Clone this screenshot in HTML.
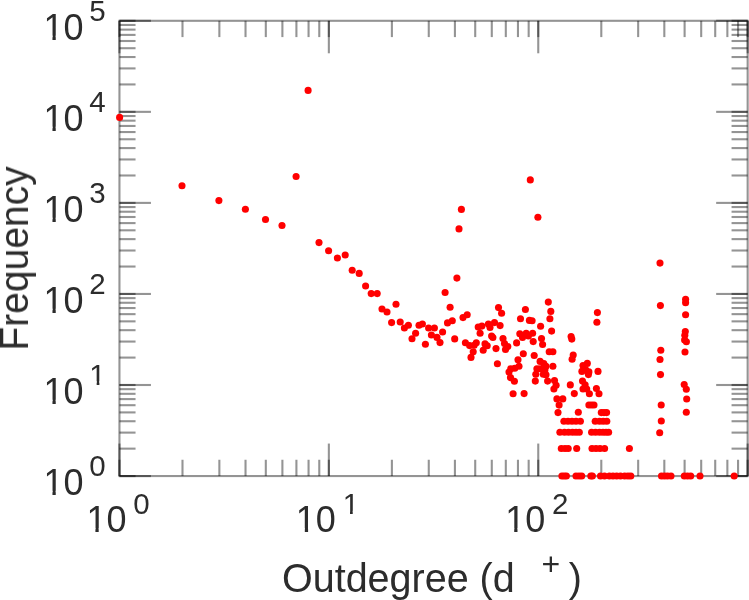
<!DOCTYPE html>
<html><head><meta charset="utf-8"><style>
html,body{margin:0;padding:0;background:#fff;}
svg{display:block;}
text{font-family:"Liberation Sans",Arial,sans-serif;font-size:36px;fill:#2c2c2c;}
.tx{opacity:0.999;}
text.s{font-size:29.5px;}
text.t{font-size:41.5px;}
text.p{font-size:32px;}
</style></head><body>
<svg width="749" height="600" viewBox="0 0 749 600">
<rect width="749" height="600" fill="#fff"/>
<g stroke="#000" stroke-opacity="0.42" stroke-width="2.1" fill="none">
<rect x="119.45" y="20.80" width="628.20" height="455.25"/>
<line x1="119.45" y1="476.05" x2="150.95" y2="476.05"/><line x1="747.65" y1="476.05" x2="716.15" y2="476.05"/><line x1="119.45" y1="476.05" x2="135.55" y2="476.05"/><line x1="747.65" y1="476.05" x2="731.55" y2="476.05"/><line x1="119.45" y1="448.64" x2="135.55" y2="448.64"/><line x1="747.65" y1="448.64" x2="731.55" y2="448.64"/><line x1="119.45" y1="432.61" x2="135.55" y2="432.61"/><line x1="747.65" y1="432.61" x2="731.55" y2="432.61"/><line x1="119.45" y1="421.23" x2="135.55" y2="421.23"/><line x1="747.65" y1="421.23" x2="731.55" y2="421.23"/><line x1="119.45" y1="412.41" x2="135.55" y2="412.41"/><line x1="747.65" y1="412.41" x2="731.55" y2="412.41"/><line x1="119.45" y1="405.20" x2="135.55" y2="405.20"/><line x1="747.65" y1="405.20" x2="731.55" y2="405.20"/><line x1="119.45" y1="399.10" x2="135.55" y2="399.10"/><line x1="747.65" y1="399.10" x2="731.55" y2="399.10"/><line x1="119.45" y1="393.82" x2="135.55" y2="393.82"/><line x1="747.65" y1="393.82" x2="731.55" y2="393.82"/><line x1="119.45" y1="389.17" x2="135.55" y2="389.17"/><line x1="747.65" y1="389.17" x2="731.55" y2="389.17"/><line x1="119.45" y1="385.00" x2="150.95" y2="385.00"/><line x1="747.65" y1="385.00" x2="716.15" y2="385.00"/><line x1="119.45" y1="385.00" x2="135.55" y2="385.00"/><line x1="747.65" y1="385.00" x2="731.55" y2="385.00"/><line x1="119.45" y1="357.59" x2="135.55" y2="357.59"/><line x1="747.65" y1="357.59" x2="731.55" y2="357.59"/><line x1="119.45" y1="341.56" x2="135.55" y2="341.56"/><line x1="747.65" y1="341.56" x2="731.55" y2="341.56"/><line x1="119.45" y1="330.18" x2="135.55" y2="330.18"/><line x1="747.65" y1="330.18" x2="731.55" y2="330.18"/><line x1="119.45" y1="321.36" x2="135.55" y2="321.36"/><line x1="747.65" y1="321.36" x2="731.55" y2="321.36"/><line x1="119.45" y1="314.15" x2="135.55" y2="314.15"/><line x1="747.65" y1="314.15" x2="731.55" y2="314.15"/><line x1="119.45" y1="308.05" x2="135.55" y2="308.05"/><line x1="747.65" y1="308.05" x2="731.55" y2="308.05"/><line x1="119.45" y1="302.77" x2="135.55" y2="302.77"/><line x1="747.65" y1="302.77" x2="731.55" y2="302.77"/><line x1="119.45" y1="298.12" x2="135.55" y2="298.12"/><line x1="747.65" y1="298.12" x2="731.55" y2="298.12"/><line x1="119.45" y1="293.95" x2="150.95" y2="293.95"/><line x1="747.65" y1="293.95" x2="716.15" y2="293.95"/><line x1="119.45" y1="293.95" x2="135.55" y2="293.95"/><line x1="747.65" y1="293.95" x2="731.55" y2="293.95"/><line x1="119.45" y1="266.54" x2="135.55" y2="266.54"/><line x1="747.65" y1="266.54" x2="731.55" y2="266.54"/><line x1="119.45" y1="250.51" x2="135.55" y2="250.51"/><line x1="747.65" y1="250.51" x2="731.55" y2="250.51"/><line x1="119.45" y1="239.13" x2="135.55" y2="239.13"/><line x1="747.65" y1="239.13" x2="731.55" y2="239.13"/><line x1="119.45" y1="230.31" x2="135.55" y2="230.31"/><line x1="747.65" y1="230.31" x2="731.55" y2="230.31"/><line x1="119.45" y1="223.10" x2="135.55" y2="223.10"/><line x1="747.65" y1="223.10" x2="731.55" y2="223.10"/><line x1="119.45" y1="217.00" x2="135.55" y2="217.00"/><line x1="747.65" y1="217.00" x2="731.55" y2="217.00"/><line x1="119.45" y1="211.72" x2="135.55" y2="211.72"/><line x1="747.65" y1="211.72" x2="731.55" y2="211.72"/><line x1="119.45" y1="207.07" x2="135.55" y2="207.07"/><line x1="747.65" y1="207.07" x2="731.55" y2="207.07"/><line x1="119.45" y1="202.90" x2="150.95" y2="202.90"/><line x1="747.65" y1="202.90" x2="716.15" y2="202.90"/><line x1="119.45" y1="202.90" x2="135.55" y2="202.90"/><line x1="747.65" y1="202.90" x2="731.55" y2="202.90"/><line x1="119.45" y1="175.49" x2="135.55" y2="175.49"/><line x1="747.65" y1="175.49" x2="731.55" y2="175.49"/><line x1="119.45" y1="159.46" x2="135.55" y2="159.46"/><line x1="747.65" y1="159.46" x2="731.55" y2="159.46"/><line x1="119.45" y1="148.08" x2="135.55" y2="148.08"/><line x1="747.65" y1="148.08" x2="731.55" y2="148.08"/><line x1="119.45" y1="139.26" x2="135.55" y2="139.26"/><line x1="747.65" y1="139.26" x2="731.55" y2="139.26"/><line x1="119.45" y1="132.05" x2="135.55" y2="132.05"/><line x1="747.65" y1="132.05" x2="731.55" y2="132.05"/><line x1="119.45" y1="125.95" x2="135.55" y2="125.95"/><line x1="747.65" y1="125.95" x2="731.55" y2="125.95"/><line x1="119.45" y1="120.67" x2="135.55" y2="120.67"/><line x1="747.65" y1="120.67" x2="731.55" y2="120.67"/><line x1="119.45" y1="116.02" x2="135.55" y2="116.02"/><line x1="747.65" y1="116.02" x2="731.55" y2="116.02"/><line x1="119.45" y1="111.85" x2="150.95" y2="111.85"/><line x1="747.65" y1="111.85" x2="716.15" y2="111.85"/><line x1="119.45" y1="111.85" x2="135.55" y2="111.85"/><line x1="747.65" y1="111.85" x2="731.55" y2="111.85"/><line x1="119.45" y1="84.44" x2="135.55" y2="84.44"/><line x1="747.65" y1="84.44" x2="731.55" y2="84.44"/><line x1="119.45" y1="68.41" x2="135.55" y2="68.41"/><line x1="747.65" y1="68.41" x2="731.55" y2="68.41"/><line x1="119.45" y1="57.03" x2="135.55" y2="57.03"/><line x1="747.65" y1="57.03" x2="731.55" y2="57.03"/><line x1="119.45" y1="48.21" x2="135.55" y2="48.21"/><line x1="747.65" y1="48.21" x2="731.55" y2="48.21"/><line x1="119.45" y1="41.00" x2="135.55" y2="41.00"/><line x1="747.65" y1="41.00" x2="731.55" y2="41.00"/><line x1="119.45" y1="34.90" x2="135.55" y2="34.90"/><line x1="747.65" y1="34.90" x2="731.55" y2="34.90"/><line x1="119.45" y1="29.62" x2="135.55" y2="29.62"/><line x1="747.65" y1="29.62" x2="731.55" y2="29.62"/><line x1="119.45" y1="24.97" x2="135.55" y2="24.97"/><line x1="747.65" y1="24.97" x2="731.55" y2="24.97"/><line x1="119.45" y1="20.80" x2="150.95" y2="20.80"/><line x1="747.65" y1="20.80" x2="716.15" y2="20.80"/><line x1="119.45" y1="20.80" x2="135.55" y2="20.80"/><line x1="747.65" y1="20.80" x2="731.55" y2="20.80"/><line x1="119.45" y1="476.05" x2="119.45" y2="443.55"/><line x1="119.45" y1="20.80" x2="119.45" y2="53.30"/><line x1="119.45" y1="476.05" x2="119.45" y2="459.75"/><line x1="119.45" y1="20.80" x2="119.45" y2="37.10"/><line x1="182.49" y1="476.05" x2="182.49" y2="459.75"/><line x1="182.49" y1="20.80" x2="182.49" y2="37.10"/><line x1="219.36" y1="476.05" x2="219.36" y2="459.75"/><line x1="219.36" y1="20.80" x2="219.36" y2="37.10"/><line x1="245.52" y1="476.05" x2="245.52" y2="459.75"/><line x1="245.52" y1="20.80" x2="245.52" y2="37.10"/><line x1="265.81" y1="476.05" x2="265.81" y2="459.75"/><line x1="265.81" y1="20.80" x2="265.81" y2="37.10"/><line x1="282.39" y1="476.05" x2="282.39" y2="459.75"/><line x1="282.39" y1="20.80" x2="282.39" y2="37.10"/><line x1="296.41" y1="476.05" x2="296.41" y2="459.75"/><line x1="296.41" y1="20.80" x2="296.41" y2="37.10"/><line x1="308.56" y1="476.05" x2="308.56" y2="459.75"/><line x1="308.56" y1="20.80" x2="308.56" y2="37.10"/><line x1="319.27" y1="476.05" x2="319.27" y2="459.75"/><line x1="319.27" y1="20.80" x2="319.27" y2="37.10"/><line x1="328.85" y1="476.05" x2="328.85" y2="443.55"/><line x1="328.85" y1="20.80" x2="328.85" y2="53.30"/><line x1="328.85" y1="476.05" x2="328.85" y2="459.75"/><line x1="328.85" y1="20.80" x2="328.85" y2="37.10"/><line x1="391.89" y1="476.05" x2="391.89" y2="459.75"/><line x1="391.89" y1="20.80" x2="391.89" y2="37.10"/><line x1="428.76" y1="476.05" x2="428.76" y2="459.75"/><line x1="428.76" y1="20.80" x2="428.76" y2="37.10"/><line x1="454.92" y1="476.05" x2="454.92" y2="459.75"/><line x1="454.92" y1="20.80" x2="454.92" y2="37.10"/><line x1="475.21" y1="476.05" x2="475.21" y2="459.75"/><line x1="475.21" y1="20.80" x2="475.21" y2="37.10"/><line x1="491.79" y1="476.05" x2="491.79" y2="459.75"/><line x1="491.79" y1="20.80" x2="491.79" y2="37.10"/><line x1="505.81" y1="476.05" x2="505.81" y2="459.75"/><line x1="505.81" y1="20.80" x2="505.81" y2="37.10"/><line x1="517.96" y1="476.05" x2="517.96" y2="459.75"/><line x1="517.96" y1="20.80" x2="517.96" y2="37.10"/><line x1="528.67" y1="476.05" x2="528.67" y2="459.75"/><line x1="528.67" y1="20.80" x2="528.67" y2="37.10"/><line x1="538.25" y1="476.05" x2="538.25" y2="443.55"/><line x1="538.25" y1="20.80" x2="538.25" y2="53.30"/><line x1="538.25" y1="476.05" x2="538.25" y2="459.75"/><line x1="538.25" y1="20.80" x2="538.25" y2="37.10"/><line x1="601.29" y1="476.05" x2="601.29" y2="459.75"/><line x1="601.29" y1="20.80" x2="601.29" y2="37.10"/><line x1="638.16" y1="476.05" x2="638.16" y2="459.75"/><line x1="638.16" y1="20.80" x2="638.16" y2="37.10"/><line x1="664.32" y1="476.05" x2="664.32" y2="459.75"/><line x1="664.32" y1="20.80" x2="664.32" y2="37.10"/><line x1="684.61" y1="476.05" x2="684.61" y2="459.75"/><line x1="684.61" y1="20.80" x2="684.61" y2="37.10"/><line x1="701.19" y1="476.05" x2="701.19" y2="459.75"/><line x1="701.19" y1="20.80" x2="701.19" y2="37.10"/><line x1="715.21" y1="476.05" x2="715.21" y2="459.75"/><line x1="715.21" y1="20.80" x2="715.21" y2="37.10"/><line x1="727.36" y1="476.05" x2="727.36" y2="459.75"/><line x1="727.36" y1="20.80" x2="727.36" y2="37.10"/><line x1="738.07" y1="476.05" x2="738.07" y2="459.75"/><line x1="738.07" y1="20.80" x2="738.07" y2="37.10"/><line x1="747.65" y1="476.05" x2="747.65" y2="443.55"/><line x1="747.65" y1="20.80" x2="747.65" y2="53.30"/><line x1="747.65" y1="476.05" x2="747.65" y2="459.75"/><line x1="747.65" y1="20.80" x2="747.65" y2="37.10"/>
</g>
<g fill="#ff0000"><circle cx="119.6" cy="117.4" r="3.55"/><circle cx="182.0" cy="185.8" r="3.55"/><circle cx="218.9" cy="200.6" r="3.55"/><circle cx="245.4" cy="209.3" r="3.55"/><circle cx="265.5" cy="219.5" r="3.55"/><circle cx="282.0" cy="225.5" r="3.55"/><circle cx="296.1" cy="176.5" r="3.55"/><circle cx="308.1" cy="90.4" r="3.55"/><circle cx="319.0" cy="242.6" r="3.55"/><circle cx="328.6" cy="250.8" r="3.55"/><circle cx="337.4" cy="258.0" r="3.55"/><circle cx="345.2" cy="255.0" r="3.55"/><circle cx="352.2" cy="270.2" r="3.55"/><circle cx="359.2" cy="273.4" r="3.55"/><circle cx="365.6" cy="286.0" r="3.55"/><circle cx="371.2" cy="293.6" r="3.55"/><circle cx="377.2" cy="293.6" r="3.55"/><circle cx="382.0" cy="309.0" r="3.55"/><circle cx="387.0" cy="312.0" r="3.55"/><circle cx="391.6" cy="322.6" r="3.55"/><circle cx="396.0" cy="304.2" r="3.55"/><circle cx="400.2" cy="322.0" r="3.55"/><circle cx="404.4" cy="328.0" r="3.55"/><circle cx="408.4" cy="325.2" r="3.55"/><circle cx="412.0" cy="338.8" r="3.55"/><circle cx="415.6" cy="333.2" r="3.55"/><circle cx="419.0" cy="325.2" r="3.55"/><circle cx="422.4" cy="324.0" r="3.55"/><circle cx="425.4" cy="344.2" r="3.55"/><circle cx="428.6" cy="328.0" r="3.55"/><circle cx="431.4" cy="335.0" r="3.55"/><circle cx="434.4" cy="328.0" r="3.55"/><circle cx="437.0" cy="337.4" r="3.55"/><circle cx="440.0" cy="342.6" r="3.55"/><circle cx="442.6" cy="332.0" r="3.55"/><circle cx="445.1" cy="292.5" r="3.55"/><circle cx="450.1" cy="307.3" r="3.55"/><circle cx="447.5" cy="322.9" r="3.55"/><circle cx="452.3" cy="320.7" r="3.55"/><circle cx="463.0" cy="317.6" r="3.55"/><circle cx="467.2" cy="314.8" r="3.55"/><circle cx="454.7" cy="338.9" r="3.55"/><circle cx="478.2" cy="327.1" r="3.55"/><circle cx="481.9" cy="326.1" r="3.55"/><circle cx="480.1" cy="333.3" r="3.55"/><circle cx="488.4" cy="324.0" r="3.55"/><circle cx="490.0" cy="327.4" r="3.55"/><circle cx="494.5" cy="322.6" r="3.55"/><circle cx="500.1" cy="325.6" r="3.55"/><circle cx="498.5" cy="307.6" r="3.55"/><circle cx="501.6" cy="313.3" r="3.55"/><circle cx="491.6" cy="336.1" r="3.55"/><circle cx="492.9" cy="337.5" r="3.55"/><circle cx="465.4" cy="342.7" r="3.55"/><circle cx="469.6" cy="345.6" r="3.55"/><circle cx="476.3" cy="342.8" r="3.55"/><circle cx="474.2" cy="345.3" r="3.55"/><circle cx="473.2" cy="351.8" r="3.55"/><circle cx="471.0" cy="357.4" r="3.55"/><circle cx="485.0" cy="343.9" r="3.55"/><circle cx="487.2" cy="345.7" r="3.55"/><circle cx="483.2" cy="350.3" r="3.55"/><circle cx="496.0" cy="348.6" r="3.55"/><circle cx="503.0" cy="338.6" r="3.55"/><circle cx="504.5" cy="343.6" r="3.55"/><circle cx="507.8" cy="346.6" r="3.55"/><circle cx="505.5" cy="349.5" r="3.55"/><circle cx="497.4" cy="363.8" r="3.55"/><circle cx="509.0" cy="372.0" r="3.55"/><circle cx="510.8" cy="368.8" r="3.55"/><circle cx="514.8" cy="368.3" r="3.55"/><circle cx="519.0" cy="366.2" r="3.55"/><circle cx="510.5" cy="377.6" r="3.55"/><circle cx="514.4" cy="381.2" r="3.55"/><circle cx="513.1" cy="393.8" r="3.55"/><circle cx="456.9" cy="278.1" r="3.55"/><circle cx="459.0" cy="228.9" r="3.55"/><circle cx="461.4" cy="209.4" r="3.55"/><circle cx="520.5" cy="318.8" r="3.55"/><circle cx="525.4" cy="309.5" r="3.55"/><circle cx="529.4" cy="320.4" r="3.55"/><circle cx="532.1" cy="320.8" r="3.55"/><circle cx="548.3" cy="302.1" r="3.55"/><circle cx="550.8" cy="311.4" r="3.55"/><circle cx="549.9" cy="318.8" r="3.55"/><circle cx="540.6" cy="326.3" r="3.55"/><circle cx="551.6" cy="331.1" r="3.55"/><circle cx="519.8" cy="333.8" r="3.55"/><circle cx="522.5" cy="337.5" r="3.55"/><circle cx="526.2" cy="333.3" r="3.55"/><circle cx="528.4" cy="335.9" r="3.55"/><circle cx="532.6" cy="333.3" r="3.55"/><circle cx="516.6" cy="342.9" r="3.55"/><circle cx="533.2" cy="341.6" r="3.55"/><circle cx="541.5" cy="338.6" r="3.55"/><circle cx="542.6" cy="344.5" r="3.55"/><circle cx="530.3" cy="179.9" r="3.55"/><circle cx="537.9" cy="217.2" r="3.55"/><circle cx="549.2" cy="351.7" r="3.55"/><circle cx="552.9" cy="351.7" r="3.55"/><circle cx="523.3" cy="353.7" r="3.55"/><circle cx="534.2" cy="355.5" r="3.55"/><circle cx="518.0" cy="359.8" r="3.55"/><circle cx="540.1" cy="361.4" r="3.55"/><circle cx="543.8" cy="363.5" r="3.55"/><circle cx="546.0" cy="366.2" r="3.55"/><circle cx="552.9" cy="366.2" r="3.55"/><circle cx="536.9" cy="368.8" r="3.55"/><circle cx="540.1" cy="368.8" r="3.55"/><circle cx="544.9" cy="369.9" r="3.55"/><circle cx="535.8" cy="374.2" r="3.55"/><circle cx="543.3" cy="374.2" r="3.55"/><circle cx="546.0" cy="374.7" r="3.55"/><circle cx="535.3" cy="381.1" r="3.55"/><circle cx="547.6" cy="381.1" r="3.55"/><circle cx="554.5" cy="380.6" r="3.55"/><circle cx="556.1" cy="385.2" r="3.55"/><circle cx="553.9" cy="389.0" r="3.55"/><circle cx="524.1" cy="393.6" r="3.55"/><circle cx="556.9" cy="398.9" r="3.55"/><circle cx="562.8" cy="398.9" r="3.55"/><circle cx="559.1" cy="405.1" r="3.55"/><circle cx="558.0" cy="412.6" r="3.55"/><circle cx="578.3" cy="412.2" r="3.55"/><circle cx="571.1" cy="336.5" r="3.55"/><circle cx="571.8" cy="339.1" r="3.55"/><circle cx="573.2" cy="355.0" r="3.55"/><circle cx="572.1" cy="359.2" r="3.55"/><circle cx="570.3" cy="384.9" r="3.55"/><circle cx="574.3" cy="393.6" r="3.55"/><circle cx="583.0" cy="365.5" r="3.55"/><circle cx="587.3" cy="363.4" r="3.55"/><circle cx="581.9" cy="371.4" r="3.55"/><circle cx="585.7" cy="369.8" r="3.55"/><circle cx="588.9" cy="371.9" r="3.55"/><circle cx="588.4" cy="374.6" r="3.55"/><circle cx="598.0" cy="371.4" r="3.55"/><circle cx="582.5" cy="381.0" r="3.55"/><circle cx="585.1" cy="384.7" r="3.55"/><circle cx="583.0" cy="389.0" r="3.55"/><circle cx="586.7" cy="389.0" r="3.55"/><circle cx="589.4" cy="393.8" r="3.55"/><circle cx="596.4" cy="388.5" r="3.55"/><circle cx="599.0" cy="393.8" r="3.55"/><circle cx="588.9" cy="405.0" r="3.55"/><circle cx="591.5" cy="405.0" r="3.55"/><circle cx="594.0" cy="405.0" r="3.55"/><circle cx="601.3" cy="412.6" r="3.55"/><circle cx="604.0" cy="412.6" r="3.55"/><circle cx="606.6" cy="412.6" r="3.55"/><circle cx="597.4" cy="312.6" r="3.55"/><circle cx="596.9" cy="322.2" r="3.55"/><circle cx="563.9" cy="421.3" r="3.55"/><circle cx="568.0" cy="421.3" r="3.55"/><circle cx="572.0" cy="421.3" r="3.55"/><circle cx="576.0" cy="421.3" r="3.55"/><circle cx="580.4" cy="421.3" r="3.55"/><circle cx="595.2" cy="421.3" r="3.55"/><circle cx="599.5" cy="421.3" r="3.55"/><circle cx="603.2" cy="421.3" r="3.55"/><circle cx="606.8" cy="421.3" r="3.55"/><circle cx="559.9" cy="432.3" r="3.55"/><circle cx="564.5" cy="432.3" r="3.55"/><circle cx="568.5" cy="432.3" r="3.55"/><circle cx="572.5" cy="432.3" r="3.55"/><circle cx="576.0" cy="432.3" r="3.55"/><circle cx="579.3" cy="432.3" r="3.55"/><circle cx="591.6" cy="432.3" r="3.55"/><circle cx="595.5" cy="432.3" r="3.55"/><circle cx="599.5" cy="432.3" r="3.55"/><circle cx="603.0" cy="432.3" r="3.55"/><circle cx="606.0" cy="432.3" r="3.55"/><circle cx="608.6" cy="432.3" r="3.55"/><circle cx="561.3" cy="448.5" r="3.55"/><circle cx="565.0" cy="448.5" r="3.55"/><circle cx="568.2" cy="448.5" r="3.55"/><circle cx="576.7" cy="448.5" r="3.55"/><circle cx="592.0" cy="448.5" r="3.55"/><circle cx="596.0" cy="448.5" r="3.55"/><circle cx="600.0" cy="448.5" r="3.55"/><circle cx="604.6" cy="448.5" r="3.55"/><circle cx="629.4" cy="448.5" r="3.55"/><circle cx="561.9" cy="476.0" r="3.55"/><circle cx="564.2" cy="476.0" r="3.55"/><circle cx="566.4" cy="476.0" r="3.55"/><circle cx="576.0" cy="476.0" r="3.55"/><circle cx="579.0" cy="476.0" r="3.55"/><circle cx="581.7" cy="476.0" r="3.55"/><circle cx="590.8" cy="476.0" r="3.55"/><circle cx="592.4" cy="476.0" r="3.55"/><circle cx="600.5" cy="476.0" r="3.55"/><circle cx="604.5" cy="476.0" r="3.55"/><circle cx="609.4" cy="476.0" r="3.55"/><circle cx="613.0" cy="476.0" r="3.55"/><circle cx="616.7" cy="476.0" r="3.55"/><circle cx="620.5" cy="476.0" r="3.55"/><circle cx="624.7" cy="476.0" r="3.55"/><circle cx="628.0" cy="476.0" r="3.55"/><circle cx="630.8" cy="476.0" r="3.55"/><circle cx="661.5" cy="476.0" r="3.55"/><circle cx="664.5" cy="476.0" r="3.55"/><circle cx="667.5" cy="476.0" r="3.55"/><circle cx="671.0" cy="476.0" r="3.55"/><circle cx="684.3" cy="476.0" r="3.55"/><circle cx="687.5" cy="476.0" r="3.55"/><circle cx="690.7" cy="476.0" r="3.55"/><circle cx="700.0" cy="476.0" r="3.55"/><circle cx="734.2" cy="476.0" r="3.55"/><circle cx="660.0" cy="263.1" r="3.55"/><circle cx="660.4" cy="305.6" r="3.55"/><circle cx="685.6" cy="299.3" r="3.55"/><circle cx="685.6" cy="302.7" r="3.55"/><circle cx="685.6" cy="314.8" r="3.55"/><circle cx="685.3" cy="331.6" r="3.55"/><circle cx="684.8" cy="335.3" r="3.55"/><circle cx="684.6" cy="340.0" r="3.55"/><circle cx="686.4" cy="341.8" r="3.55"/><circle cx="685.0" cy="352.0" r="3.55"/><circle cx="660.8" cy="350.2" r="3.55"/><circle cx="660.0" cy="359.5" r="3.55"/><circle cx="660.5" cy="374.6" r="3.55"/><circle cx="684.2" cy="384.5" r="3.55"/><circle cx="686.3" cy="389.2" r="3.55"/><circle cx="686.7" cy="399.0" r="3.55"/><circle cx="686.3" cy="412.2" r="3.55"/><circle cx="661.2" cy="405.0" r="3.55"/><circle cx="661.3" cy="421.0" r="3.55"/><circle cx="659.7" cy="432.7" r="3.55"/></g>
<g class="tx">
<text x="83.5" y="494.8" text-anchor="end">10</text><text class="s" x="89.3" y="475.8">0</text><text x="83.5" y="403.7" text-anchor="end">10</text><text class="s" x="89.3" y="384.7">1</text><text x="83.5" y="312.7" text-anchor="end">10</text><text class="s" x="89.3" y="293.7">2</text><text x="83.5" y="221.6" text-anchor="end">10</text><text class="s" x="89.3" y="202.6">3</text><text x="83.5" y="130.6" text-anchor="end">10</text><text class="s" x="89.3" y="111.6">4</text><text x="83.5" y="39.5" text-anchor="end">10</text><text class="s" x="89.3" y="20.5">5</text>
<text x="126.5" y="532.2" text-anchor="end">10</text><text class="s" x="133.2" y="514.3">0</text><text x="335.9" y="532.2" text-anchor="end">10</text><text class="s" x="342.7" y="514.3">1</text><text x="545.2" y="532.2" text-anchor="end">10</text><text class="s" x="552.0" y="514.3">2</text>
<text class="t" transform="translate(282 591.5) scale(0.952 1)">Outdegree (d</text>
<text class="p" x="541.5" y="575">+</text>
<text class="t" transform="translate(568.7 591.5) scale(0.952 1)">)</text>
<text class="t" transform="translate(28 350.6) rotate(-90) scale(0.94 1)">Frequency</text>
</g>
<g fill="#fff"><rect x="45.20" y="490.76" width="7.26" height="4.49"/><rect x="55.74" y="490.76" width="6.98" height="4.49"/><rect x="45.20" y="399.71" width="7.26" height="4.49"/><rect x="55.74" y="399.71" width="6.98" height="4.49"/><rect x="90.55" y="381.20" width="6.12" height="4.00"/><rect x="99.38" y="381.20" width="5.89" height="4.00"/><rect x="45.20" y="308.66" width="7.26" height="4.49"/><rect x="55.74" y="308.66" width="6.98" height="4.49"/><rect x="45.20" y="217.61" width="7.26" height="4.49"/><rect x="55.74" y="217.61" width="6.98" height="4.49"/><rect x="45.20" y="126.56" width="7.26" height="4.49"/><rect x="55.74" y="126.56" width="6.98" height="4.49"/><rect x="45.20" y="35.51" width="7.26" height="4.49"/><rect x="55.74" y="35.51" width="6.98" height="4.49"/><rect x="88.15" y="528.21" width="7.26" height="4.49"/><rect x="98.69" y="528.21" width="6.98" height="4.49"/><rect x="297.55" y="528.21" width="7.26" height="4.49"/><rect x="308.09" y="528.21" width="6.98" height="4.49"/><rect x="343.90" y="510.80" width="6.12" height="4.00"/><rect x="352.73" y="510.80" width="5.89" height="4.00"/><rect x="506.95" y="528.21" width="7.26" height="4.49"/><rect x="517.49" y="528.21" width="6.98" height="4.49"/></g>
</svg>
</body></html>
